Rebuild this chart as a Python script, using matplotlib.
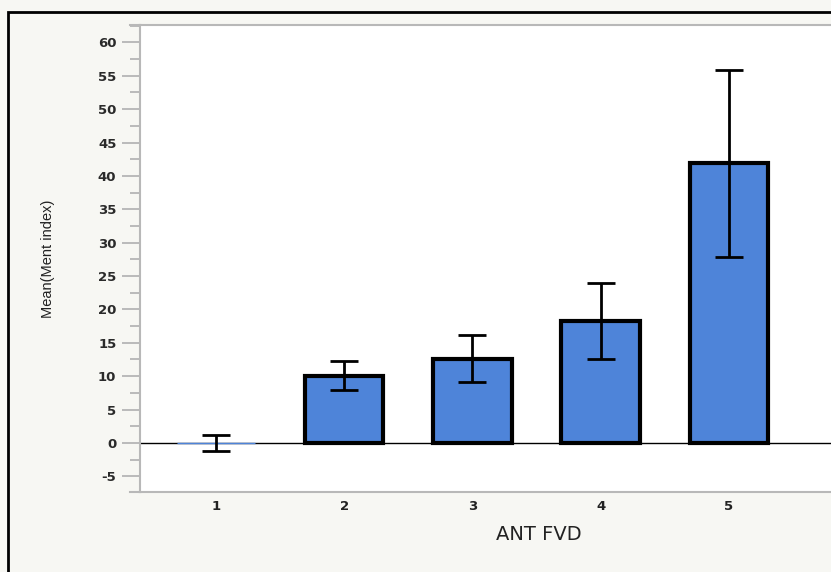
import matplotlib
matplotlib.use("Agg")
import matplotlib.pyplot as plt
from matplotlib.patches import Rectangle
from matplotlib.lines import Line2D
from matplotlib.ticker import MultipleLocator

plt.rcParams["axes.unicode_minus"] = False

categories = ["1", "2", "3", "4", "5"]
means = [0.0, 10.1, 12.6, 18.2, 41.9]
errors = [1.2, 2.1, 3.5, 5.7, 14.0]
y_ticks = [-5, 0, 5, 10, 15, 20, 25, 30, 35, 40, 45, 50, 55, 60]

W, H = 831, 572
fig = plt.figure(figsize=(W / 100, H / 100), dpi=100)
fig.patch.set_facecolor("#f7f7f3")

# outer frame
fig.add_artist(Rectangle((8 / W, -0.05), 1.2, 1 - 12 / H + 0.05,
                         transform=fig.transFigure, fill=False,
                         edgecolor="black", linewidth=2))

left, right, bottom, top = 140, 845, 492, 25
step = 128.2
ax = fig.add_axes([left / W, 1 - bottom / H, (right - left) / W, (bottom - top) / H])
ax.set_facecolor("white")

bar_color = "#4e84d9"
x = list(range(1, len(categories) + 1))
edgecolors = [bar_color if m == 0 else "black" for m in means]
linewidths = [1.0 if m == 0 else 3.0 for m in means]
ax.axhline(0, color="black", linewidth=1, zorder=1)
ax.bar(x, means, width=0.61, color=bar_color, edgecolor=edgecolors,
       linewidth=linewidths, zorder=2)
ax.errorbar(x, means, yerr=errors, fmt="none", ecolor="black", elinewidth=2,
            capsize=10, capthick=2, zorder=3)

x0 = 1 - (216 - left) / step
ax.set_xlim(x0, x0 + (right - left) / step)
ax.set_ylim(-7.35, 62.6)
ax.set_xticks(x)
ax.set_xticklabels(categories)
ax.set_yticks(y_ticks)
ax.yaxis.set_minor_locator(MultipleLocator(2.5))

ax.spines["right"].set_visible(False)
for s in ["left", "bottom", "top"]:
    ax.spines[s].set_color("#b8b8b8")
    ax.spines[s].set_linewidth(1.5)

ax.tick_params(axis="y", which="major", length=13, width=1.2, color="#b0b0b0",
               labelsize=9.5, labelcolor="#2a2a2a", pad=4)
ax.tick_params(axis="y", which="minor", length=7, width=1.2, color="#b0b0b0")
ax.tick_params(axis="x", length=0, labelsize=9.5, labelcolor="#222222", pad=6)
for lab in ax.get_yticklabels() + ax.get_xticklabels():
    lab.set_fontweight("bold")

ax.set_xlabel("ANT FVD", fontsize=14, color="#222222")
ax.xaxis.set_label_coords((539 - left) / (right - left), -(535 - bottom) / (bottom - top))
ax.xaxis.label.set_va("center")
ax.set_ylabel("Mean(Ment index)", fontsize=10.5, family="Liberation Sans",
              color="#222222")
ax.yaxis.set_label_coords(-(left - 48) / (right - left), 0.5)
ax.yaxis.label.set_va("center")

# frame lines extending left of the axis
fig.add_artist(Line2D([130 / W, left / W], [1 - top / H] * 2, color="#b8b8b8", lw=1.5,
                      transform=fig.transFigure))
fig.add_artist(Line2D([130 / W, left / W], [1 - bottom / H] * 2, color="#b8b8b8", lw=1.5,
                      transform=fig.transFigure))

fig.savefig("out.png", dpi=100, facecolor=fig.get_facecolor())
